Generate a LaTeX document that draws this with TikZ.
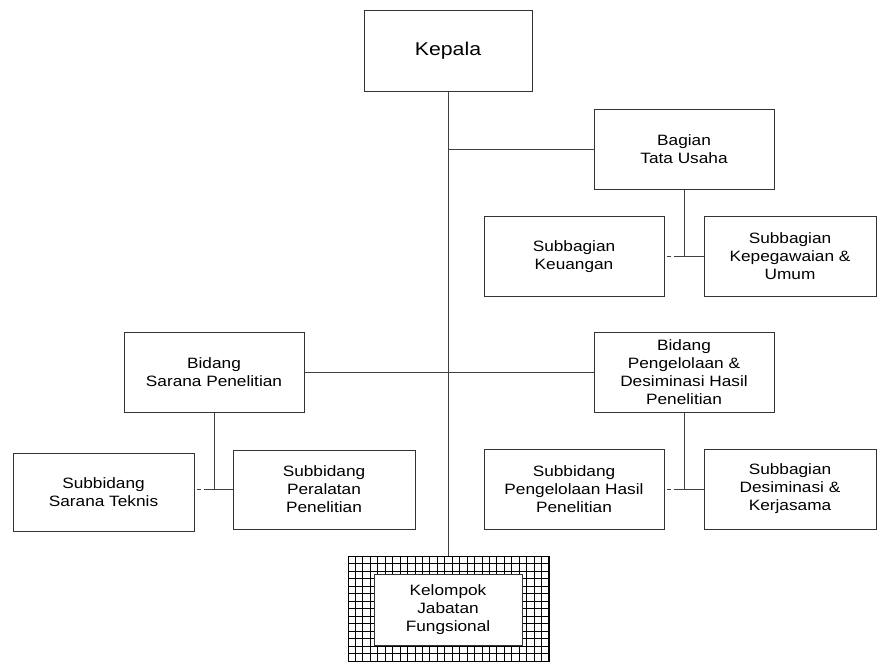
\documentclass[tikz,border=0pt]{standalone}
\usepackage{fontspec}
\newfontfamily\orgfont[FakeStretch=1.15]{Liberation Sans}
\begin{document}
\begin{tikzpicture}[
        x=1pt, y=-1pt,
        box/.style={rectangle, draw=black!80, fill=white, line width=1pt, minimum width=180pt, minimum height=80pt, align=center, font=\orgfont\fontsize{15}{18}\selectfont, inner sep=0pt},
        head/.style={box, minimum width=168pt, font=\orgfont\fontsize{18.5}{22}\selectfont},
        hatched/.style={rectangle, draw=black, line width=0.8pt, minimum width=201pt, minimum height=110pt,
            path picture={
                \foreach \k in {0,...,27}
                    \draw[line width=0.8pt] ([xshift=\k*7.44pt]path picture bounding box.north west) -- ([xshift=\k*7.44pt]path picture bounding box.south west);
                \foreach \k in {0,...,15}
                    \draw[line width=0.8pt] ([yshift=-\k*7.5pt]path picture bounding box.north west) -- ([yshift=-\k*7.5pt]path picture bounding box.north east);
            }},
        conn/.style={draw=black!75, line width=1pt},
        stub/.style={conn, dash pattern=on 0pt off 2pt on 4pt off 3pt on 40pt}
    ]
        \useasboundingbox (0,0) rectangle (877,661);

        % Top
        \node[head] (kepala) at (448,51) {Kepala};
        \node[box] (tu) at (684,149) {Bagian\\Tata Usaha};
        \node[box] (keu) at (574,256.5) {Subbagian\\Keuangan};
        \node[box, minimum width=172pt] (peg) at (790,256.5) {Subbagian\\Kepegawaian \&\\Umum};

        % Bidang
        \node[box] (bsp) at (214,372.5) {Bidang\\Sarana Penelitian};
        \node[box] (bph) at (684,372.5) {Bidang\\Pengelolaan \&\\Desiminasi Hasil\\Penelitian};

        % Subbidang
        \node[box, minimum width=181pt, minimum height=78pt] (sst) at (103.5,492) {Subbidang\\Sarana Teknis};
        \node[box, minimum width=182pt, minimum height=79pt] (spp) at (324,489.5) {Subbidang\\Peralatan\\Penelitian};
        \node[box] (sph) at (574,489) {Subbidang\\Pengelolaan Hasil\\Penelitian};
        \node[box, minimum width=172pt] (sdk) at (790,489) {Subbagian\\Desiminasi \&\\Kerjasama};

        % Kelompok jabatan fungsional
        \node[hatched] (grid) at (448.5,611) {};
        \node[box, minimum width=148pt, minimum height=71pt] (kjf) at (448,609.5) {Kelompok\\Jabatan\\Fungsional};

        % Junctions
        \coordinate (j1) at (tu.south |- peg.west);
        \coordinate (j2) at (bsp.south |- spp.west);
        \coordinate (j3) at (bph.south |- sdk.west);

        % Lines
        \draw[conn] (kepala.south) -- (kepala.south |- grid.north);
        \draw[conn] (kepala.south |- tu.west) -- (tu.west);
        \draw[conn] (bsp.east) -- (bph.west);

        \draw[conn] (tu.south) -- (j1) -- (peg.west);
        \draw[stub] (j1 -| keu.east) -- (j1);

        \draw[conn] (bsp.south) -- (j2) -- (spp.west);
        \draw[stub] (j2 -| sst.east) -- (j2);

        \draw[conn] (bph.south) -- (j3) -- (sdk.west);
        \draw[stub] (j3 -| sph.east) -- (j3);
\end{tikzpicture}
\end{document}
